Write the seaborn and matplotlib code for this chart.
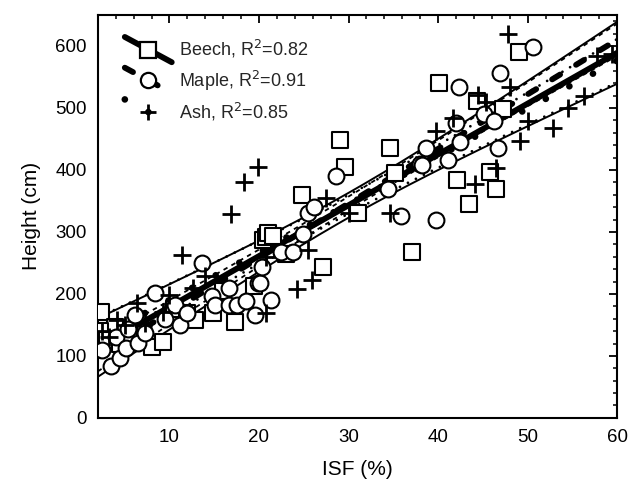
import numpy as np
import pandas as pd
import matplotlib
matplotlib.use("Agg")
import matplotlib.pyplot as plt
import seaborn as sns
from matplotlib.lines import Line2D
from matplotlib.legend_handler import HandlerLine2D
from matplotlib.ticker import MultipleLocator

# ---------------- data ----------------
beech_isf = [2.4, 3.9, 2.2, 3.0, 4.5, 5.5, 8.0, 9.3, 10.5, 12.0, 12.8, 14.9, 16.0, 17.3,
             19.4, 20.5, 20.8, 21.0, 21.6, 23.0, 24.8, 27.2, 29.0, 29.6, 31.0, 34.6,
             35.2, 37.1, 40.1, 42.1, 43.5, 44.3, 45.8, 46.5, 47.3, 49.0]
beech_h = [171, 147, 140, 125, 120, 135, 115, 123, 175, 170, 158, 169, 205, 155,
           212, 287, 292, 298, 294, 265, 360, 244, 448, 404, 330, 435,
           395, 267, 540, 384, 345, 511, 396, 370, 499, 590]

maple_isf = [2.5, 3.5, 4.0, 4.5, 5.2, 5.4, 6.1, 6.5, 7.3, 8.4, 9.5, 10.6, 11.2, 12.0,
             13.6, 14.7, 15.1, 16.6, 16.7, 17.5, 18.6, 19.5, 19.9, 20.1, 20.3, 21.3,
             22.5, 23.8, 24.9, 25.5, 26.1, 28.6, 34.4, 35.9, 38.0, 38.2, 38.7, 39.8,
             41.1, 42.0, 42.3, 42.4, 45.1, 46.2, 46.7, 46.9, 50.6]
maple_h = [110, 83, 130, 96, 112, 143, 166, 121, 137, 201, 160, 182, 150, 170,
           250, 196, 182, 209, 182, 182, 188, 166, 217, 218, 244, 190,
           268, 268, 296, 330, 340, 390, 370, 325, 409, 408, 435, 319,
           416, 476, 534, 445, 490, 479, 436, 556, 598]

ash_isf = [2.5, 3.2, 4.1, 5.0, 6.4, 7.3, 9.3, 10.0, 11.4, 12.6, 14.0, 16.9, 18.3,
           19.9, 20.8, 20.8, 24.2, 25.5, 25.9, 27.5, 30.0, 34.6, 39.8, 41.7, 44.1,
           44.5, 45.4, 46.5, 47.8, 48.0, 49.1, 50.0, 52.8, 54.5, 56.3, 57.7, 59.4]
ash_h = [140, 131, 158, 150, 186, 153, 171, 198, 263, 209, 229, 329, 380,
         405, 169, 260, 208, 271, 223, 354, 330, 330, 462, 483, 377,
         521, 509, 403, 620, 534, 446, 479, 467, 500, 520, 583, 587]

species = ["Beech", "Maple", "Ash"]
r2_values = [0.82, 0.91, 0.85]
fit_intercept = [97.0, 82.0, 113.0]
fit_slope = [8.2, 8.8, 7.72]
band_center = [30.0, 30.0, 30.0]
band_hw_center = [20.0, 11.0, 15.0]
band_hw_edge = [50.0, 26.0, 35.0]

x_ticks = [10, 20, 30, 40, 50, 60]
y_ticks = [0, 100, 200, 300, 400, 500, 600]

# ---------------- styling ----------------
sns.set_theme(style="white")
plt.rcParams['font.family'] = ['Liberation Sans', 'DejaVu Sans']

fig = plt.figure(figsize=(6.35, 4.82), dpi=100)
ax = fig.add_axes([0.154, 0.133, 0.818, 0.836])

center_styles = [
    dict(linestyle='-', lw=4.2, solid_capstyle='round'),
    dict(linestyle=(0, (1.6, 3.2)), lw=4.2, dash_capstyle='round'),
    dict(linestyle=(0, (0.01, 4.0)), lw=4.8, dash_capstyle='round'),
]
band_styles = [
    dict(linestyle='-', lw=1.4),
    dict(linestyle=(0, (2.5, 2.5)), lw=1.3),
    dict(linestyle=(0, (0.01, 3.2)), lw=2.0, dash_capstyle='round'),
]

xs = np.linspace(2, 60, 200)
for i in range(3):
    yc = fit_intercept[i] + fit_slope[i] * xs
    k = np.sqrt(band_hw_edge[i] ** 2 - band_hw_center[i] ** 2) / (60 - band_center[i])
    hw = np.sqrt(band_hw_center[i] ** 2 + (k * (xs - band_center[i])) ** 2)
    ax.plot(xs, yc, color='black', zorder=2, **center_styles[i])
    ax.plot(xs, yc + hw, color='black', zorder=2, **band_styles[i])
    ax.plot(xs, yc - hw, color='black', zorder=2, **band_styles[i])

df_b = pd.DataFrame({"ISF": beech_isf, "H": beech_h})
df_m = pd.DataFrame({"ISF": maple_isf, "H": maple_h})
df_a = pd.DataFrame({"ISF": ash_isf, "H": ash_h})

sns.scatterplot(data=df_b, x="ISF", y="H", marker='s', s=120, facecolor='white',
                edgecolor='black', linewidth=1.5, ax=ax, zorder=3)
sns.scatterplot(data=df_m, x="ISF", y="H", marker='o', s=130, facecolor='white',
                edgecolor='black', linewidth=1.5, ax=ax, zorder=3)
sns.scatterplot(data=df_a, x="ISF", y="H", marker='+', s=150, color='black',
                linewidth=2.0, ax=ax, zorder=3)

ax.set_xlim(2, 60)
ax.set_ylim(0, 650)
ax.set_xticks(x_ticks)
ax.set_yticks(y_ticks)
ax.xaxis.set_minor_locator(MultipleLocator(2))
ax.yaxis.set_minor_locator(MultipleLocator(20))
ax.tick_params(which='both', direction='in', top=True, right=True, color='black',
               labelsize=13.5, labelcolor='black')
ax.tick_params(which='major', length=6, width=1.3, pad=8)
ax.tick_params(which='minor', length=3, width=1.1)
for sp in ax.spines.values():
    sp.set_linewidth(1.5)
    sp.set_color('black')

ax.set_xlabel("ISF (%)", fontsize=15, labelpad=10, color='black')
ax.set_ylabel("Height (cm)", fontsize=15, labelpad=10, color='black')


class SlantHandler(HandlerLine2D):
    def create_artists(self, legend, orig_handle, xdescent, ydescent, width,
                       height, fontsize, trans):
        arts = super().create_artists(legend, orig_handle, xdescent, ydescent,
                                      width, height, fontsize, trans)
        for a in arts:
            if isinstance(a, Line2D):
                xd = np.asarray(a.get_xdata(), dtype=float)
                mid = (height - ydescent) / 2
                if len(xd) > 1:
                    a.set_ydata(np.linspace(mid + height * 1.0, mid - height * 1.0, len(xd)))
        return arts


markers = ['s', 'o', '+']
handles = []
for i in range(3):
    st = dict(center_styles[i])
    h = Line2D([], [], color='black', marker=markers[i], markersize=11,
               markerfacecolor='white', markeredgecolor='black',
               markeredgewidth=1.6 if i < 2 else 2.0, **st)
    handles.append(h)
labels = [f"{s}, R$^2$={r:.2f}" for s, r in zip(species, r2_values)]
leg = ax.legend(handles, labels, loc='upper left', bbox_to_anchor=(0.052, 0.942),
                frameon=False, fontsize=13, handlelength=2.6, handletextpad=0.4,
                labelspacing=0.45, borderpad=0, borderaxespad=0, numpoints=1,
                handler_map={Line2D: SlantHandler()})

fig.savefig("out.png", dpi=100)
